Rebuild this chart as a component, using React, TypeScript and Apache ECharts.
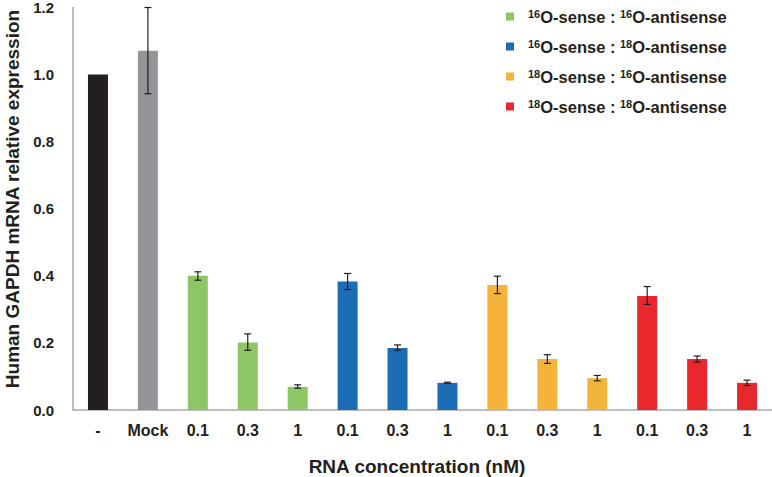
import React, { useEffect, useRef } from "react";
import * as echarts from "echarts";

const categories = ["-", "Mock", "0.1", "0.3", "1", "0.1", "0.3", "1", "0.1", "0.3", "1", "0.1", "0.3", "1"];
const controlValues = [1.0, 1.071];
const controlColors = ["#231f20", "#939598"];
const g1616 = [0.4, 0.201, 0.069];
const g1618 = [0.383, 0.185, 0.081];
const g1816 = [0.373, 0.152, 0.095];
const g1818 = [0.34, 0.152, 0.081];
const errLow = [null, 0.943, 0.387, 0.178, 0.065, 0.359, 0.178, 0.079, 0.347, 0.139, 0.087, 0.315, 0.143, 0.073];
const errHigh = [null, 1.2, 0.412, 0.227, 0.075, 0.407, 0.194, 0.083, 0.399, 0.165, 0.103, 0.368, 0.161, 0.089];
const seriesNames = ["16-16", "16-18", "18-16", "18-18"];
const seriesColors = ["#8cc665", "#1b6db6", "#f4b33a", "#e8282c"];
const yTicks = [0, 0.2, 0.4, 0.6, 0.8, 1.0, 1.2];
const xTitle = "RNA concentration (nM)";
const yTitle = "Human GAPDH mRNA relative expression";

const FONT = "'Liberation Sans', Arial, sans-serif";
const INK = "#231f20";

function place(vals: number[], offset: number) {
  return categories.map((_, i) => (i >= offset && i < offset + 3 ? vals[i - offset] : "-"));
}

export default function App() {
  const ref = useRef<HTMLDivElement>(null);
  useEffect(() => {
    if (!ref.current) return;
    const chart = echarts.init(ref.current, null, { renderer: "svg" });
    const groups = [g1616, g1618, g1816, g1818];
    const legendLabel: Record<string, string> = {
      "16-16": "{f|16}{b|O-sense : }{s|16}{b|O-antisense}",
      "16-18": "{f|16}{b|O-sense : }{s|18}{b|O-antisense}",
      "18-16": "{f|18}{b|O-sense : }{s|16}{b|O-antisense}",
      "18-18": "{f|18}{b|O-sense : }{s|18}{b|O-antisense}",
    };
    const errData = categories.map((_, i) => [i, errLow[i], errHigh[i]]).filter((d) => d[1] !== null);
    chart.setOption({
      animation: false,
      textStyle: { fontFamily: FONT },
      grid: { left: 73, right: 0, top: 7, bottom: 67, containLabel: false },
      legend: {
        data: seriesNames,
        orient: "vertical",
        left: 501,
        top: 3,
        itemWidth: 8,
        itemHeight: 8,
        itemGap: 12.5,
        icon: "rect",
        formatter: (n: string) => legendLabel[n],
        textStyle: {
          rich: {
            b: { fontSize: 16.5, fontWeight: "bold", color: INK, fontFamily: FONT, lineHeight: 16 },
            s: { fontSize: 11, fontWeight: "bold", color: INK, fontFamily: FONT, verticalAlign: "top", lineHeight: 16, padding: [0, 0, 6, 0] },
            f: { fontSize: 11, fontWeight: "bold", color: INK, fontFamily: FONT, verticalAlign: "top", lineHeight: 16, padding: [0, 0, 6, 9] },
          },
        },
      },
      xAxis: {
        type: "category",
        data: categories,
        axisLine: { lineStyle: { color: "#a7a9ac", width: 1.5 } },
        axisTick: { show: false },
        axisLabel: { fontSize: 16, fontWeight: "bold", color: INK, margin: 12, interval: 0 },
      },
      yAxis: {
        type: "value",
        min: 0,
        max: 1.2,
        interval: 0.2,
        axisLine: { show: true, lineStyle: { color: "#a7a9ac", width: 1.5 } },
        axisTick: { show: false },
        splitLine: { show: false },
        axisLabel: {
          fontSize: 15,
          fontWeight: "bold",
          color: INK,
          margin: 19,
          formatter: (v: number) => (yTicks.some((t) => Math.abs(t - v) < 1e-6) ? v.toFixed(1) : ""),
        },
      },
      graphic: [
        {
          type: "text",
          x: 417,
          y: 466,
          style: { text: xTitle, fontSize: 19, fontWeight: "bold", fill: INK, fontFamily: FONT, align: "center", verticalAlign: "middle" },
        },
        {
          type: "text",
          x: 12,
          y: 199,
          rotation: Math.PI / 2,
          style: { text: yTitle, fontSize: 19, fontWeight: "bold", fill: INK, fontFamily: FONT, align: "center", verticalAlign: "middle" },
        },
      ],
      series: [
        {
          type: "bar",
          name: "control",
          barWidth: 20,
          barGap: "-100%",
          data: categories.map((_, i) =>
            i < 2 ? { value: controlValues[i], itemStyle: { color: controlColors[i] } } : "-"
          ),
        },
        ...groups.map((g, k) => ({
          type: "bar",
          name: seriesNames[k],
          barWidth: 20,
          barGap: "-100%",
          itemStyle: { color: seriesColors[k] },
          data: place(g, 2 + k * 3),
        })),
        {
          type: "custom",
          name: "err",
          data: errData,
          z: 10,
          renderItem: (params: any, api: any) => {
            const x = api.value(0);
            const lo = api.coord([x, api.value(1)]);
            const hi = api.coord([x, api.value(2)]);
            const hw = 3.5;
            const style = { stroke: INK, lineWidth: 1.2 };
            return {
              type: "group",
              children: [
                { type: "line", shape: { x1: lo[0], y1: lo[1], x2: hi[0], y2: hi[1] }, style },
                { type: "line", shape: { x1: lo[0] - hw, y1: lo[1], x2: lo[0] + hw, y2: lo[1] }, style },
                { type: "line", shape: { x1: hi[0] - hw, y1: hi[1], x2: hi[0] + hw, y2: hi[1] }, style },
              ],
            };
          },
        },
      ],
    });
    return () => chart.dispose();
  }, []);
  return <div ref={ref} style={{ position: "absolute", left: 0, top: 0, width: 772, height: 477 }} />;
}
